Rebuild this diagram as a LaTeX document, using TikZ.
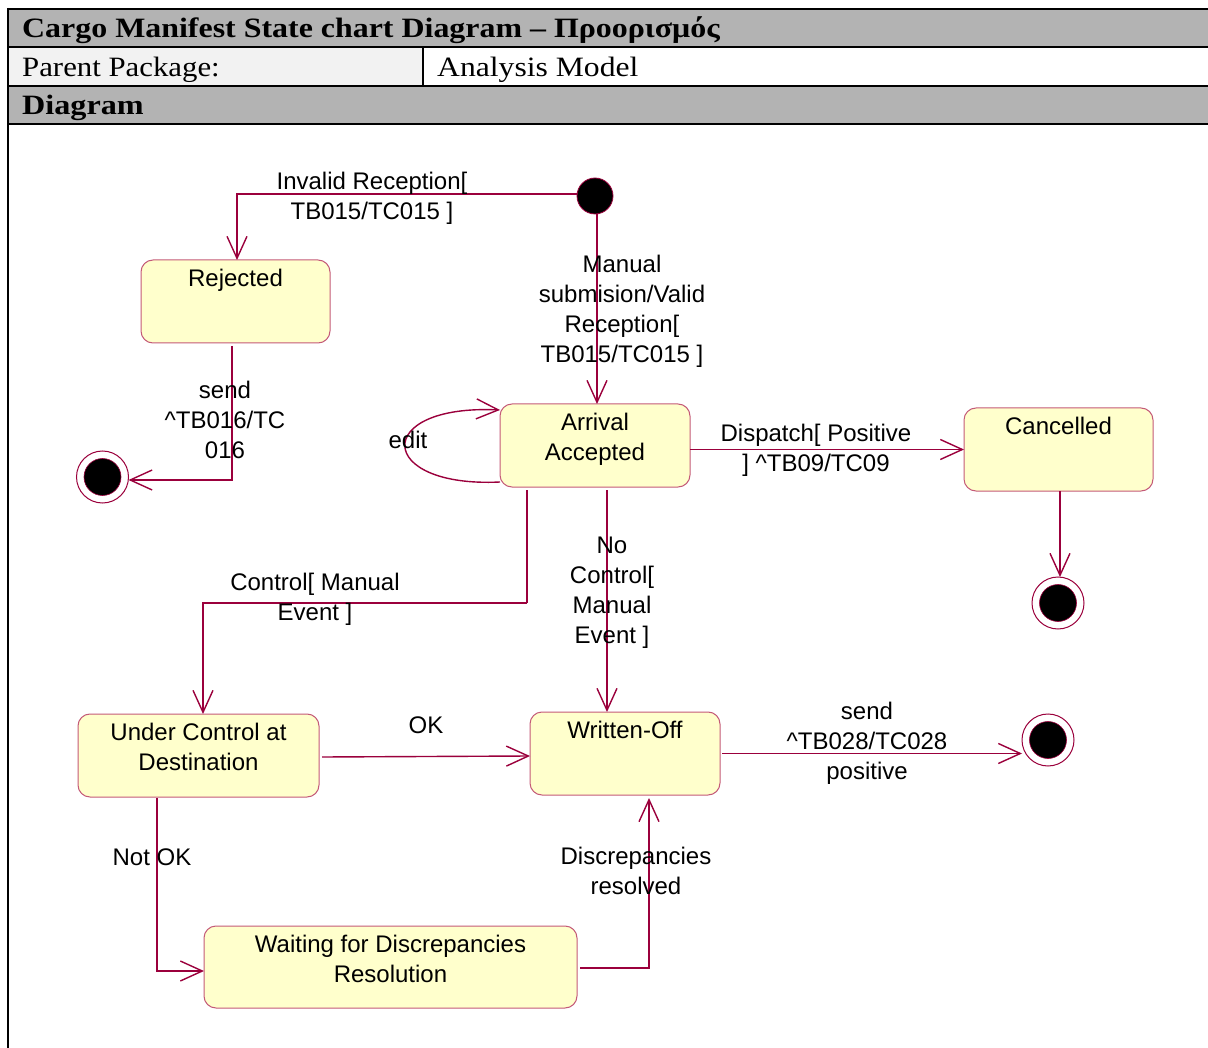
\documentclass[tikz,border=0pt]{standalone}
\usepackage{fontspec}
\usepackage{graphicx}
\setmainfont{Liberation Serif}
\newfontfamily\arialf{Liberation Sans}
\usetikzlibrary{arrows.meta}
\definecolor{lnred}{RGB}{155,0,60}
\definecolor{stborder}{RGB}{196,90,120}
\definecolor{stfill}{RGB}{255,255,204}
\definecolor{hdrgray}{RGB}{179,179,179}
\definecolor{cellgray}{RGB}{242,242,242}
\tikzset{
  statebox/.style={draw=stborder, fill=stfill, rounded corners=12pt, line width=1pt, inner sep=0pt, outer sep=0pt},
  sttext/.style={font=\arialf\fontsize{24}{30}\selectfont, align=center, inner sep=0pt, anchor=north},
  lbl/.style={font=\arialf\fontsize{24}{30}\selectfont, align=center, inner sep=0pt},
  conn/.style={draw=lnred, line width=1.4pt, -{Straight Barb[length=22pt,width=20pt]}},
  plainconn/.style={draw=lnred, line width=1.4pt},
  hdr/.style={inner sep=0pt, anchor=base west},
  initst/.style={circle, fill=black, draw=lnred, line width=0.8pt, minimum size=36pt, inner sep=0pt, outer sep=0pt},
  finalst/.style={circle, fill=white, draw=lnred, line width=1pt, minimum size=52pt, inner sep=0pt, outer sep=0pt},
  finalin/.style={circle, fill=black, draw=lnred, line width=0.6pt, minimum size=37pt, inner sep=0pt},
  hline/.style={line width=2.2pt, black}
}
\begin{document}
\begin{tikzpicture}[x=1pt,y=-1pt]
\useasboundingbox (0,0) rectangle (1208,1048);
\fill[white] (0,0) rectangle (1208,1048);
% header
\fill[hdrgray] (8,9) rectangle (1208,47);
\fill[cellgray] (8,47) rectangle (423,86);
\fill[hdrgray] (8,86) rectangle (1208,124);
\draw[hline] (7,9) -- (1208,9);
\draw[hline] (7,47) -- (1208,47);
\draw[hline] (7,86) -- (1208,86);
\draw[hline] (7,124) -- (1208,124);
\draw[hline] (8,8) -- (8,1048);
\draw[hline] (423,47) -- (423,86);
\node[hdr] (title) at (22,37.5) {\fontsize{28}{30}\selectfont\bfseries\scalebox{1.14}[1]{Cargo Manifest State chart Diagram – Προορισμός}};
\node[hdr] (pp) at (22,76.5) {\fontsize{28}{30}\selectfont\scalebox{1.10}[1]{Parent Package:}};
\node[hdr] (am) at (437,76.5) {\fontsize{28}{30}\selectfont\scalebox{1.13}[1]{Analysis Model}};
\node[hdr] (dg) at (22,114.5) {\fontsize{28}{30}\selectfont\bfseries\scalebox{1.15}[1]{Diagram}};

% states
\node[statebox, minimum width=189pt, minimum height=83pt] (rej) at (235.5,301.5) {};
\node[sttext] (rejt) at ([yshift=-8.5pt]rej.north) {Rejected};
\node[statebox, minimum width=190pt, minimum height=83pt] (arr) at (595,445.5) {};
\node[sttext] (arrt) at ([yshift=-8.5pt]arr.north) {Arrival\\Accepted};
\node[statebox, minimum width=189pt, minimum height=83pt] (can) at (1058.5,449.5) {};
\node[sttext] (cant) at ([yshift=-8.5pt]can.north) {Cancelled};
\node[statebox, minimum width=241pt, minimum height=83pt] (uc) at (198.5,755.5) {};
\node[sttext] (uct) at ([yshift=-8.5pt]uc.north) {Under Control at\\Destination};
\node[statebox, minimum width=190pt, minimum height=83pt] (wo) at (625,753.5) {};
\node[sttext] (wot) at ([yshift=-8.5pt]wo.north) {Written-Off};
\node[statebox, minimum width=373pt, minimum height=82pt] (wt) at (390.5,967) {};
\node[sttext] (wtt) at ([yshift=-8.5pt]wt.north) {Waiting for Discrepancies\\Resolution};

% pseudo states
\node[initst] (init) at (595,196) {};
\node[finalst] (f1) at (102.5,477) {};
\node[finalin] (f1i) at (f1.center) {};
\node[finalst] (f2) at (1058,603) {};
\node[finalin] (f2i) at (f2.center) {};
\node[finalst] (f3) at (1048,740) {};
\node[finalin] (f3i) at (f3.center) {};

% bend coordinates
\coordinate (k1) at (527,603);
\coordinate (k2) at (607,600);

% connectors
\draw[conn] ([yshift=2pt]init.west) -| ([xshift=1.5pt]rej.north);
\draw[conn] ([xshift=2pt]init.south) -- ([xshift=2pt]arr.north);
\draw[conn] ([xshift=-3.5pt,yshift=-3pt]rej.south) |- ([yshift=-3pt]f1.east);
\draw[conn] ([yshift=5pt]arr.south west) .. controls (375,488) and (372,404) .. ([yshift=-6pt]arr.north west);
\draw[conn] (arr.east |- can.west) -- (can.west);
\draw[conn] ([xshift=1.5pt]can.south) -- ([xshift=2pt]f2.north);
\draw[plainconn] ([yshift=-3pt]arr.south -| k1) -- (k1);
\draw[conn] (k1) -| ([xshift=4.5pt]uc.north);
\draw[conn] ([yshift=-3pt]arr.south -| k2) -- (wo.north -| k2);
\draw[conn] ([xshift=3pt,yshift=-1.5pt]uc.east) -- ([yshift=-2.5pt]wo.west);
\draw[conn] ([xshift=2pt]wo.east) -- (f3.west |- wo.east);
\draw[conn] ([xshift=-41.5pt,yshift=-1pt]uc.south) |- ([yshift=-4pt]wt.west);
\draw[conn] ([xshift=3pt,yshift=-1pt]wt.east) -| ([xshift=24pt,yshift=-3pt]wo.south);

% labels
\node[lbl] (l1) at (372,198.5) {Invalid Reception[\\ TB015/TC015 ]};
\node[lbl] (l2) at (622,311.5) {Manual\\submision/Valid\\Reception[\\ TB015/TC015 ]};
\node[lbl] (l3) at (225,420) {send\\\^{}TB016/TC\\016};
\node[lbl] (l4) at (408,440) {edit};
\node[lbl] (l5) at (816,450.5) {Dispatch[ Positive\\] \^{}TB09/TC09};
\node[lbl] (l6) at (315,599.5) {Control[ Manual\\Event ]};
\node[lbl] (l7) at (612,592.5) {No\\Control[\\Manual\\Event ]};
\node[lbl] (l8) at (426,725) {OK};
\node[lbl] (l9) at (867,743.5) {send\\\^{}TB028/TC028\\positive};
\node[lbl] (l10) at (152,857) {Not OK};
\node[lbl] (l11) at (636,871) {Discrepancies\\resolved};
\end{tikzpicture}
\end{document}
